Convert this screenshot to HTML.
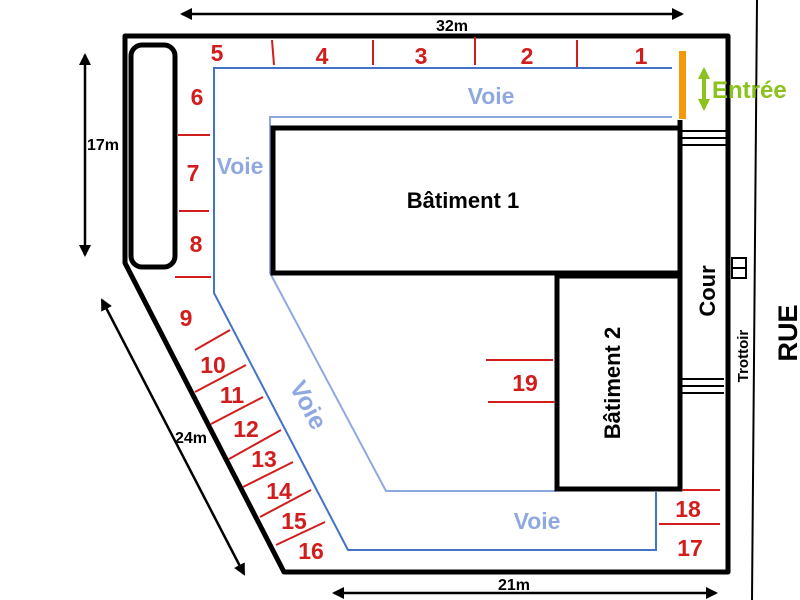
<!DOCTYPE html>
<html><head><meta charset="utf-8"><style>body{margin:0;background:#fff}svg{display:block}</style></head><body>
<svg width="800" height="600" viewBox="0 0 800 600" xmlns="http://www.w3.org/2000/svg" font-family="Liberation Sans, Arial, sans-serif">
<defs>
<marker id="a" markerWidth="12" markerHeight="12" refX="10" refY="6" orient="auto-start-reverse" markerUnits="userSpaceOnUse"><path d="M0,0 L12,6 L0,12 z" fill="#000"/></marker>
<marker id="g" markerWidth="12" markerHeight="12" refX="9" refY="6" orient="auto-start-reverse" markerUnits="userSpaceOnUse"><path d="M0,0 L12,6 L0,12 z" fill="#8cc21e"/></marker>
</defs>
<line x1="757" y1="0" x2="752" y2="600" stroke="#000" stroke-width="2"/>
<path d="M125,36 L728,36 L728,572 L284,572 L125,263 Z" fill="none" stroke="#000" stroke-width="5" stroke-linejoin="round"/>
<rect x="131" y="45" width="44" height="222" rx="11" fill="none" stroke="#000" stroke-width="5"/>
<path d="M672,68 L214,68 L214,293 L348,550 L656,550 L656,492" fill="none" stroke="#4472c4" stroke-width="2"/>
<path d="M672,117 L270,117 L270,273 L386,491 L556,491" fill="none" stroke="#8fa9e0" stroke-width="2"/>
<rect x="273" y="128" width="407" height="145" fill="#fff" stroke="#000" stroke-width="5"/>
<rect x="557" y="276" width="123" height="213" fill="#fff" stroke="#000" stroke-width="5"/>
<line x1="680" y1="120" x2="680" y2="489" stroke="#000" stroke-width="5"/>
<g stroke="#000" stroke-width="2" fill="none">
<line x1="682" y1="131" x2="726" y2="131"/><line x1="682" y1="138" x2="726" y2="138"/><line x1="682" y1="145" x2="726" y2="145"/>
<line x1="682" y1="379" x2="724" y2="379"/><line x1="682" y1="386" x2="724" y2="386"/><line x1="682" y1="393" x2="724" y2="393"/>
<rect x="732" y="258" width="14" height="20"/><line x1="732" y1="268" x2="746" y2="268"/>
</g>
<rect x="679" y="51" width="7" height="68" fill="#f39a0c"/>
<line x1="704" y1="70" x2="704" y2="108" stroke="#8cc21e" stroke-width="4" marker-start="url(#g)" marker-end="url(#g)"/>
<text x="712" y="98" font-size="24" font-weight="bold" fill="#8cc21e">Entrée</text>
<g stroke="#000" stroke-width="2.5">
<line x1="182" y1="14" x2="682" y2="14" marker-start="url(#a)" marker-end="url(#a)"/>
<line x1="85" y1="55" x2="85" y2="255" marker-start="url(#a)" marker-end="url(#a)"/>
<line x1="102" y1="300" x2="244" y2="574" marker-start="url(#a)" marker-end="url(#a)"/>
<line x1="334" y1="593" x2="716" y2="593" marker-start="url(#a)" marker-end="url(#a)"/>
</g>
<g font-size="16" font-weight="bold" fill="#000">
<text x="436" y="31">32m</text><text x="87" y="150">17m</text><text x="175" y="443">24m</text><text x="498" y="590">21m</text>
</g>
<g stroke="#d21d1d" stroke-width="2">
<line x1="272" y1="40" x2="274" y2="65"/><line x1="373" y1="40" x2="373" y2="65"/><line x1="475" y1="37" x2="475" y2="65"/><line x1="577" y1="40" x2="577" y2="67"/>
<line x1="178" y1="135" x2="210" y2="135"/><line x1="179" y1="211" x2="209" y2="211"/><line x1="175" y1="277" x2="211" y2="277"/>
<line x1="195" y1="350" x2="230" y2="330"/><line x1="195" y1="392" x2="246" y2="365"/><line x1="211" y1="424" x2="263" y2="397"/><line x1="229" y1="459" x2="281" y2="430"/><line x1="243" y1="487" x2="293" y2="462"/><line x1="260" y1="517" x2="311" y2="490"/><line x1="276" y1="545" x2="325" y2="522"/>
<line x1="486" y1="360" x2="553" y2="360"/><line x1="488" y1="402" x2="555" y2="402"/>
<line x1="682" y1="490" x2="720" y2="490"/><line x1="659" y1="524" x2="720" y2="524"/>
</g>
<g font-size="23" font-weight="bold" fill="#d21d1d" text-anchor="middle">
<text x="217" y="61">5</text><text x="322" y="64">4</text><text x="421" y="64">3</text><text x="527" y="64">2</text><text x="641" y="64">1</text>
<text x="197" y="105">6</text><text x="193" y="181">7</text><text x="196" y="252">8</text><text x="186" y="326">9</text>
<text x="213" y="373">10</text><text x="232" y="403">11</text><text x="246" y="437">12</text><text x="264" y="467">13</text><text x="279" y="499">14</text><text x="294" y="529">15</text><text x="311" y="559">16</text>
<text x="525" y="391">19</text><text x="688" y="517">18</text><text x="690" y="556">17</text>
</g>
<g font-size="23" font-weight="bold" fill="#8fa9e0" text-anchor="middle">
<text x="491" y="104">Voie</text><text x="240" y="174">Voie</text><text x="537" y="529">Voie</text>
<text transform="translate(301,409) rotate(62)" font-size="25">Voie</text>
</g>
<g font-weight="bold" fill="#000" text-anchor="middle">
<text x="463" y="208" font-size="22">Bâtiment 1</text>
<text transform="translate(620,383) rotate(-90)" font-size="22">Bâtiment 2</text>
<text transform="translate(715,291) rotate(-90)" font-size="22">Cour</text>
<text transform="translate(748,356) rotate(-90)" font-size="15">Trottoir</text>
<text transform="translate(797,333) rotate(-90)" font-size="27">RUE</text>
</g>
</svg>
</body></html>
